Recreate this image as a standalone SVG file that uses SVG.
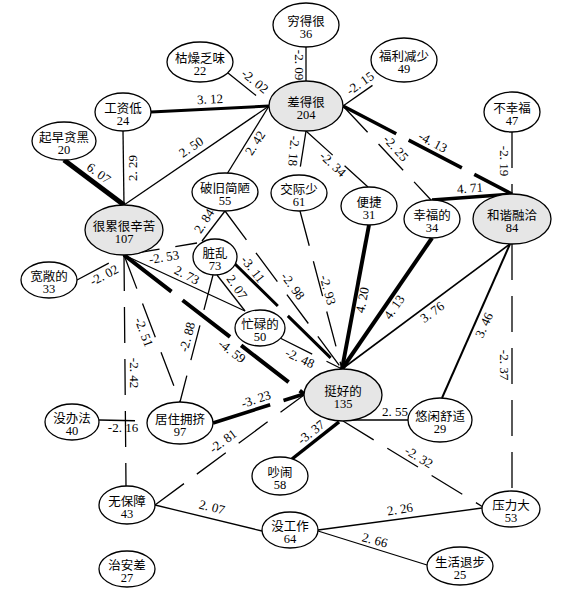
<svg xmlns="http://www.w3.org/2000/svg" width="561" height="594" viewBox="0 0 561 594">
<style>
.e line{stroke:#000;stroke-width:1.3;fill:none}
.d{stroke-dasharray:36 16}
.D{stroke-dasharray:60 14}
.w16{stroke-width:1.6!important}
.w2{stroke-width:2!important}
.w3{stroke-width:3!important}
.w35{stroke-width:3.5!important}
.w4{stroke-width:4!important}
.w5{stroke-width:5!important}
.lb text{font-family:"Liberation Serif","Noto Sans CJK SC",serif;font-size:13px;text-anchor:middle;fill:#000}
.n ellipse{fill:#fff;stroke:#000;stroke-width:1.3}
.n.g ellipse{fill:#e6e6e6}
.n text{font-family:"Liberation Serif","Noto Sans CJK SC",serif;font-size:12.5px;text-anchor:middle;fill:#000}
</style>
<rect width="561" height="594" fill="#fff"/>
<g id="connectors" class="e">
<line x1="151" y1="112" x2="269" y2="106" class="w3"/>
<line x1="124" y1="205" x2="269" y2="106"/>
<line x1="227" y1="174" x2="269" y2="106"/>
<line x1="64" y1="160" x2="124" y2="205" class="w5"/>
<line x1="123" y1="131" x2="124" y2="205"/>
<line x1="202" y1="241" x2="225" y2="211"/>
<line x1="217" y1="275" x2="245" y2="311"/>
<line x1="124" y1="255" x2="245" y2="311"/>
<line x1="369" y1="225" x2="342" y2="369" class="w4"/>
<line x1="432" y1="238" x2="342" y2="369" class="w4"/>
<line x1="510" y1="244" x2="342" y2="369" class="w16"/>
<line x1="510" y1="244" x2="442" y2="398" class="w2"/>
<line x1="432" y1="200" x2="512" y2="194" class="w35"/>
<line x1="408" y1="420" x2="345" y2="420"/>
<line x1="155" y1="505" x2="262" y2="531"/>
<line x1="318" y1="530" x2="482" y2="508"/>
<line x1="318" y1="531" x2="427" y2="565"/>
<line x1="306" y1="47" x2="306" y2="81" class="d"/>
<line x1="228" y1="73" x2="269" y2="106" class="d"/>
<line x1="343" y1="106" x2="383" y2="78" class="d"/>
<line x1="306" y1="131" x2="299" y2="175" class="d"/>
<line x1="306" y1="131" x2="368" y2="187" class="d"/>
<line x1="343" y1="106" x2="431" y2="200" class="d"/>
<line x1="343" y1="106" x2="512" y2="194" class="D w35"/>
<line x1="512" y1="132" x2="512" y2="194" class="d"/>
<line x1="512" y1="244" x2="512" y2="491" class="d"/>
<line x1="300" y1="211" x2="342" y2="369" class="d"/>
<line x1="225" y1="211" x2="342" y2="369" class="d"/>
<line x1="235" y1="264" x2="342" y2="369" class="D w3"/>
<line x1="280" y1="338" x2="342" y2="369" class="d"/>
<line x1="124" y1="255" x2="304" y2="394" class="D w4"/>
<line x1="213" y1="423" x2="304" y2="394" class="D w35"/>
<line x1="155" y1="505" x2="304" y2="395" class="d"/>
<line x1="292" y1="459" x2="340" y2="421" class="D w35"/>
<line x1="343" y1="421" x2="483" y2="507" class="d"/>
<line x1="77" y1="280" x2="124" y2="255" class="d"/>
<line x1="124" y1="255" x2="180" y2="402" class="d"/>
<line x1="213" y1="275" x2="180" y2="402" class="d"/>
<line x1="124" y1="255" x2="126" y2="486" class="d"/>
<line x1="99" y1="420" x2="147" y2="421" class="d"/>
<line x1="124" y1="255" x2="197" y2="243" class="d"/>
</g>
<g id="edge-labels" class="lb">
<text transform="translate(210,99) rotate(-3)" y="4.5">3. 12</text>
<text transform="translate(191,147) rotate(-34)" y="4.5">2. 50</text>
<text transform="translate(255,143) rotate(-57)" y="4.5">2. 42</text>
<text transform="translate(99,173) rotate(36)" y="4.5">6. 07</text>
<text transform="translate(132,168) rotate(-90)" y="4.5">2. 29</text>
<text transform="translate(204,221) rotate(-57)" y="4.5">2. 84</text>
<text transform="translate(237,287) rotate(56)" y="4.5">2. 07</text>
<text transform="translate(187,275) rotate(27)" y="4.5">2. 73</text>
<text transform="translate(362,300) rotate(-79)" y="4.5">4. 20</text>
<text transform="translate(394,307) rotate(-55)" y="4.5">4. 13</text>
<text transform="translate(432,312) rotate(-36)" y="4.5">3. 76</text>
<text transform="translate(484,325) rotate(-66)" y="4.5">3. 46</text>
<text transform="translate(470,188) rotate(-4)" y="4.5">4. 71</text>
<text transform="translate(395,411)" y="4.5">2. 55</text>
<text transform="translate(212,507) rotate(14)" y="4.5">2. 07</text>
<text transform="translate(400,509) rotate(-9)" y="4.5">2. 26</text>
<text transform="translate(375,540) rotate(15)" y="4.5">2. 66</text>
<text transform="translate(299,65) rotate(90)" y="4.5">-2. 09</text>
<text transform="translate(255,81) rotate(39)" y="4.5">-2. 02</text>
<text transform="translate(360,83) rotate(-35)" y="4.5">-2. 15</text>
<text transform="translate(294,151) rotate(95)" y="4.5">-2. 18</text>
<text transform="translate(333,164) rotate(43)" y="4.5">-2. 34</text>
<text transform="translate(396,148) rotate(48)" y="4.5">-2. 25</text>
<text transform="translate(433,142) rotate(28)" y="4.5">-4. 13</text>
<text transform="translate(504,161) rotate(90)" y="4.5">-2. 19</text>
<text transform="translate(504,365) rotate(90)" y="4.5">-2. 37</text>
<text transform="translate(328,290) rotate(75)" y="4.5">-2. 93</text>
<text transform="translate(293,286) rotate(53)" y="4.5">-2. 98</text>
<text transform="translate(253,269) rotate(52)" y="4.5">-3. 11</text>
<text transform="translate(300,358) rotate(25)" y="4.5">-2. 48</text>
<text transform="translate(232,351) rotate(37)" y="4.5">-4. 59</text>
<text transform="translate(256,399) rotate(-18)" y="4.5">-3. 23</text>
<text transform="translate(223,441) rotate(-37)" y="4.5">-2. 81</text>
<text transform="translate(311,432) rotate(-38)" y="4.5">-3. 37</text>
<text transform="translate(419,457) rotate(31)" y="4.5">-2. 32</text>
<text transform="translate(104,275) rotate(-28)" y="4.5">-2. 02</text>
<text transform="translate(144,332) rotate(69)" y="4.5">-2. 51</text>
<text transform="translate(187,337) rotate(-75)" y="4.5">-2. 88</text>
<text transform="translate(134,373) rotate(90)" y="4.5">-2. 42</text>
<text transform="translate(123,427)" y="4.5">-2. 16</text>
<text transform="translate(164,257) rotate(-9)" y="4.5">-2. 53</text>
</g>
<g id="n1" class="n"><ellipse cx="306" cy="25" rx="33" ry="22"/><text x="306" y="25.5">穷得很</text><text x="306" y="38">36</text></g>
<g id="n2" class="n"><ellipse cx="200" cy="62" rx="33" ry="20"/><text x="200" y="62.5">枯燥乏味</text><text x="200" y="75">22</text></g>
<g id="n3" class="n"><ellipse cx="404" cy="60" rx="33" ry="22"/><text x="404" y="60.5">福利减少</text><text x="404" y="73">49</text></g>
<g id="n4" class="n g"><ellipse cx="306" cy="106" rx="37" ry="25"/><text x="306" y="106.5">差得很</text><text x="306" y="119">204</text></g>
<g id="n5" class="n"><ellipse cx="123" cy="112" rx="28" ry="19"/><text x="123" y="112.5">工资低</text><text x="123" y="125">24</text></g>
<g id="n6" class="n"><ellipse cx="64" cy="141" rx="32" ry="19"/><text x="64" y="141.5">起早贪黑</text><text x="64" y="154">20</text></g>
<g id="n7" class="n"><ellipse cx="512" cy="112" rx="28" ry="20"/><text x="512" y="112.5">不幸福</text><text x="512" y="125">47</text></g>
<g id="n8" class="n g"><ellipse cx="124" cy="230" rx="39" ry="25"/><text x="124" y="230.5">很累很辛苦</text><text x="124" y="243">107</text></g>
<g id="n9" class="n"><ellipse cx="225" cy="192" rx="33" ry="19"/><text x="225" y="192.5">破旧简陋</text><text x="225" y="205">55</text></g>
<g id="n10" class="n"><ellipse cx="299" cy="193" rx="28" ry="18"/><text x="299" y="193.5">交际少</text><text x="299" y="206">61</text></g>
<g id="n11" class="n"><ellipse cx="369" cy="206" rx="28" ry="19"/><text x="369" y="206.5">便捷</text><text x="369" y="219">31</text></g>
<g id="n12" class="n"><ellipse cx="432" cy="219" rx="28" ry="19"/><text x="432" y="219.5">幸福的</text><text x="432" y="232">34</text></g>
<g id="n13" class="n g"><ellipse cx="512" cy="219" rx="39" ry="25"/><text x="512" y="219.5">和谐融洽</text><text x="512" y="232">84</text></g>
<g id="n14" class="n"><ellipse cx="49" cy="280" rx="28" ry="18"/><text x="49" y="280.5">宽敞的</text><text x="49" y="293">33</text></g>
<g id="n15" class="n"><ellipse cx="215" cy="257" rx="22" ry="18"/><text x="215" y="257.5">脏乱</text><text x="215" y="270">73</text></g>
<g id="n16" class="n"><ellipse cx="260" cy="328" rx="25" ry="18"/><text x="260" y="328.5">忙碌的</text><text x="260" y="341">50</text></g>
<g id="n17" class="n g"><ellipse cx="343" cy="395" rx="39" ry="26"/><text x="343" y="395.5">挺好的</text><text x="343" y="408">135</text></g>
<g id="n18" class="n"><ellipse cx="440" cy="420" rx="32" ry="22"/><text x="440" y="420.5">悠闲舒适</text><text x="440" y="433">29</text></g>
<g id="n19" class="n"><ellipse cx="72" cy="422" rx="27" ry="18"/><text x="72" y="422.5">没办法</text><text x="72" y="435">40</text></g>
<g id="n20" class="n"><ellipse cx="180" cy="423" rx="33" ry="21"/><text x="180" y="423.5">居住拥挤</text><text x="180" y="436">97</text></g>
<g id="n21" class="n"><ellipse cx="280" cy="476" rx="28" ry="19"/><text x="280" y="476.5">吵闹</text><text x="280" y="489">58</text></g>
<g id="n22" class="n"><ellipse cx="127" cy="505" rx="28" ry="19"/><text x="127" y="505.5">无保障</text><text x="127" y="518">43</text></g>
<g id="n23" class="n"><ellipse cx="290" cy="530" rx="28" ry="18"/><text x="290" y="530.5">没工作</text><text x="290" y="543">64</text></g>
<g id="n24" class="n"><ellipse cx="511" cy="509" rx="29" ry="18"/><text x="511" y="509.5">压力大</text><text x="511" y="522">53</text></g>
<g id="n25" class="n"><ellipse cx="127" cy="569" rx="28" ry="18"/><text x="127" y="569.5">治安差</text><text x="127" y="582">27</text></g>
<g id="n26" class="n"><ellipse cx="460" cy="566" rx="33" ry="19"/><text x="460" y="566.5">生活退步</text><text x="460" y="579">25</text></g>
</svg>
